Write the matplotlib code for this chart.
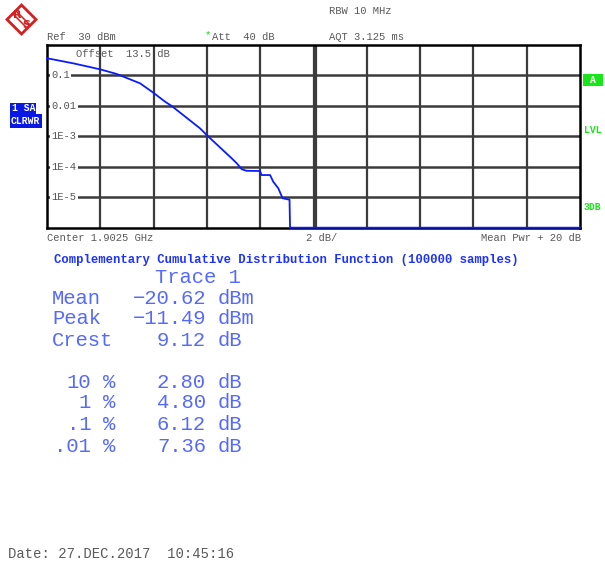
import matplotlib
matplotlib.use("Agg")
import matplotlib.pyplot as plt
from matplotlib.patches import Polygon, Rectangle

MONO = ["Liberation Mono", "DejaVu Sans Mono"]
plt.rcParams["font.family"] = MONO

# CCDF trace: power above mean (dB) vs probability
ccdf_db = [0.0, 1.0, 1.99, 2.62, 3.49, 3.99, 4.43, 4.68, 5.74, 5.99, 6.93, 7.12,
           7.31, 7.49, 7.99, 8.05, 8.37, 8.49, 8.68, 8.84, 8.90, 9.03, 9.10, 9.12, 20.0]
ccdf_p = [0.355, 0.24, 0.154, 0.108, 0.0536, 0.0264, 0.0134, 0.00968, 0.0018, 0.00109,
          1.87e-4, 1.29e-4, 8.2e-5, 7.3e-5, 7.2e-5, 5.3e-5, 5.3e-5, 3.2e-5, 1.95e-5,
          9.2e-6, 9.0e-6, 8.5e-6, 8.3e-6, 1e-6, 1e-6]

# measurement summary
stat_names = ["Mean", "Peak", "Crest"]
stat_values = [-20.62, -11.49, 9.12]
stat_units = ["dBm", "dBm", "dB"]
pct_levels = ["10", "1", ".1", ".01"]
pct_db = [2.80, 4.80, 6.12, 7.36]

decade_labels = ["0.1", "0.01", "1E-3", "1E-4", "1E-5"]

W, H = 605, 565
fig = plt.figure(figsize=(W / 100, H / 100), dpi=100)

# screen area
left, right, top, bottom = 47, 580, 44.5, 227.7
ax = fig.add_axes([left / W, 1 - bottom / H, (right - left) / W, (bottom - top) / H])
ax.set_xlim(0, 20)
ax.set_yscale("log")
ax.set_ylim(1e-6, 1)
ax.set_xticks([])
ax.set_yticks([])
ax.minorticks_off()
for s in ax.spines.values():
    s.set_linewidth(1.8)
    s.set_color("black")

grid_c = "#3c3c3c"
for xv in range(2, 20, 2):
    ax.axvline(xv, color=grid_c, lw=1.6, zorder=1)
ax.axvline(10.08, color=grid_c, lw=1.6, zorder=1)
for i, lab in enumerate(decade_labels):
    yv = 10.0 ** -(i + 1)
    ax.axhline(yv, color=grid_c, lw=1.8, zorder=1)
    ax.text(0.16, yv, lab, fontsize=7.5, color="#555555", va="center", ha="left",
            zorder=2, bbox=dict(boxstyle="square,pad=0.12", fc="white", ec="none"))

ax.plot(ccdf_db, ccdf_p, color="#0a1cff", lw=1.3, zorder=4, clip_on=False)

# overlay in pixel coordinates for annotations
ov = fig.add_axes([0, 0, 1, 1], facecolor="none")
ov.set_xlim(0, W)
ov.set_ylim(H, 0)
ov.axis("off")

gray = "#5a5a5a"
small = 7.6
ov.text(76, 54, "Offset  13.5 dB", fontsize=small, color=gray, va="center")
ov.text(47, 37, "Ref  30 dBm", fontsize=small, color=gray, va="center")
ov.text(205, 35, "*", fontsize=small, color="#19d419", va="center")
ov.text(212, 37, "Att  40 dB", fontsize=small, color=gray, va="center")
ov.text(329, 37, "AQT 3.125 ms", fontsize=small, color=gray, va="center")
ov.text(329, 11, "RBW 10 MHz", fontsize=small, color=gray, va="center")

ov.text(47, 238, "Center 1.9025 GHz", fontsize=small, color=gray, va="center")
ov.text(306, 238, "2 dB/", fontsize=small, color=gray, va="center")
ov.text(581, 238, "Mean Pwr + 20 dB", fontsize=small, color=gray, va="center", ha="right")

# trace badge
badge = "#0a18e6"
ov.add_patch(Rectangle((10, 102.5), 25.5, 11, fc=badge, ec="none"))
ov.add_patch(Rectangle((10, 113.5), 32, 14, fc=badge, ec="none"))
ov.text(12, 108, "1 SA", fontsize=7, color="white", weight="bold", va="center")
ov.text(11, 120.5, "CLRWR", fontsize=7, color="white", weight="bold", va="center")

green = "#19e619"
ov.add_patch(Rectangle((583, 74), 19.5, 11.5, fc=green, ec="none"))
ov.text(592.7, 80, "A", fontsize=7, color="white", weight="bold", va="center", ha="center")
ov.text(584, 130, "LVL", fontsize=7, color=green, weight="bold", va="center")
ov.text(584, 207, "3DB", fontsize=7, color=green, weight="bold", va="center")

# R&S logo
red = "#d42020"
cx, cy, r = 21.5, 19.5, 14.5
ov.add_patch(Polygon([(cx, cy - r), (cx + r, cy), (cx, cy + r), (cx - r, cy)],
                     closed=True, fc="white", ec=red, lw=2.0))
for off in (-1.5, 1.5):
    ov.plot([cx - 7.5 + off, cx + 7.5 + off], [cy - 7.5 - off, cy + 7.5 - off],
            color=red, lw=1.1)
ov.text(cx - 4.5, cy - 4.5, "R", fontsize=8, color=red, ha="center", va="center",
        weight="bold", family=["DejaVu Sans"])
ov.text(cx + 4.5, cy + 5, "S", fontsize=8, color=red, ha="center", va="center",
        weight="bold", family=["DejaVu Sans"])

title_c = "#1e32ff"
ov.text(54, 260, "Complementary Cumulative Distribution Function (100000 samples)",
        fontsize=8.85, color=title_c, weight="bold", va="center")

stat_c = "#5569ff"
fs = 14.8
ov.text(155, 277.5, "Trace 1", fontsize=fs, color=stat_c, va="center")
row_y = [298, 319, 340]
for yv, name, val, unit in zip(row_y, stat_names, stat_values, stat_units):
    ov.text(52, yv, name, fontsize=fs, color=stat_c, va="center")
    ov.text(206, yv, f"{val:.2f}".replace("-", "\u2212"), fontsize=fs, color=stat_c,
            va="center", ha="right")
    ov.text(218, yv, unit, fontsize=fs, color=stat_c, va="center")

pct_y = [382, 403, 424, 446]
for yv, lvl, val in zip(pct_y, pct_levels, pct_db):
    ov.text(91, yv, lvl, fontsize=fs, color=stat_c, va="center", ha="right")
    ov.text(103, yv, "%", fontsize=fs, color=stat_c, va="center")
    ov.text(206, yv, f"{val:.2f}", fontsize=fs, color=stat_c, va="center", ha="right")
    ov.text(218, yv, "dB", fontsize=fs, color=stat_c, va="center")

ov.text(8, 554, "Date: 27.DEC.2017  10:45:16", fontsize=10, color=gray, va="center")

fig.savefig("out.png", dpi=100)
